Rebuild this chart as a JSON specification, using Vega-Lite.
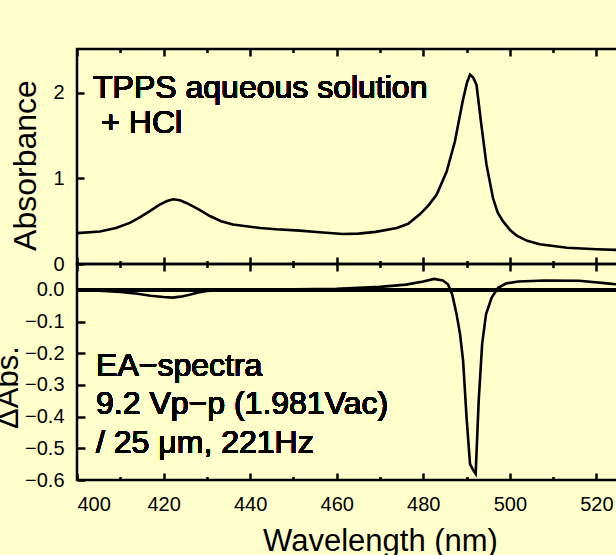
{
  "$schema": "https://vega.github.io/schema/vega-lite/v6.json",
  "background": "#FFFFCC",
  "padding": {"left": -10, "top": 46, "right": 0, "bottom": 0},
  "spacing": 0,
  "bounds": "flush",
  "config": {
    "view": {"stroke": "black", "strokeWidth": 2.5},
    "axis": {
      "domain": false, "grid": false, "ticks": true, "tickOpacity": 1,
      "tickColor": "black", "tickWidth": 2.5,
      "labelColor": "black", "labelFont": "Liberation Sans", "labelFontSize": 20,
      "titleColor": "black", "titleFont": "Liberation Sans", "titleFontWeight": "normal"
    },
    "axisX": {"ticks": true, "tickColor": "black"},
    "axisY": {"ticks": true, "tickColor": "black"}
  },
  "datasets": {
    "abs": [
      {"wl": 400, "a": 0.36}, {"wl": 405.3, "a": 0.38}, {"wl": 409, "a": 0.42}, {"wl": 412.2, "a": 0.48},
      {"wl": 414.5, "a": 0.545}, {"wl": 416.9, "a": 0.62}, {"wl": 419, "a": 0.69}, {"wl": 420.8, "a": 0.735},
      {"wl": 422.2, "a": 0.755}, {"wl": 423.8, "a": 0.745}, {"wl": 425.4, "a": 0.71}, {"wl": 428, "a": 0.64},
      {"wl": 430.7, "a": 0.56}, {"wl": 433.3, "a": 0.5}, {"wl": 436, "a": 0.46}, {"wl": 442.3, "a": 0.42},
      {"wl": 446, "a": 0.405}, {"wl": 451.5, "a": 0.39}, {"wl": 456, "a": 0.37}, {"wl": 461.4, "a": 0.35},
      {"wl": 465, "a": 0.355}, {"wl": 469, "a": 0.375}, {"wl": 473.9, "a": 0.42}, {"wl": 476.5, "a": 0.47},
      {"wl": 479.2, "a": 0.58}, {"wl": 481.3, "a": 0.69}, {"wl": 483.1, "a": 0.81}, {"wl": 485.4, "a": 1.08},
      {"wl": 487.3, "a": 1.43}, {"wl": 489.1, "a": 1.9}, {"wl": 490.1, "a": 2.12}, {"wl": 490.8, "a": 2.21},
      {"wl": 491.5, "a": 2.18}, {"wl": 492.3, "a": 2.09}, {"wl": 493.4, "a": 1.63}, {"wl": 494.6, "a": 1.16},
      {"wl": 496.1, "a": 0.77}, {"wl": 497.2, "a": 0.6}, {"wl": 498.4, "a": 0.5}, {"wl": 500, "a": 0.4},
      {"wl": 501.6, "a": 0.33}, {"wl": 504, "a": 0.27}, {"wl": 506.9, "a": 0.23}, {"wl": 513.2, "a": 0.19},
      {"wl": 520, "a": 0.172}, {"wl": 524.5, "a": 0.165}, {"wl": 530, "a": 0.16}, {"wl": 540, "a": 0.155}
    ],
    "ea": [
      {"wl": 400, "d": 0.0}, {"wl": 405, "d": -0.002}, {"wl": 410, "d": -0.006}, {"wl": 414, "d": -0.012},
      {"wl": 417, "d": -0.018}, {"wl": 420, "d": -0.022}, {"wl": 422, "d": -0.024}, {"wl": 424, "d": -0.021},
      {"wl": 426, "d": -0.015}, {"wl": 428, "d": -0.008}, {"wl": 430, "d": -0.003}, {"wl": 435, "d": 0.0},
      {"wl": 440, "d": 0.001}, {"wl": 450, "d": 0.002}, {"wl": 460, "d": 0.004}, {"wl": 470, "d": 0.01},
      {"wl": 476, "d": 0.017}, {"wl": 480, "d": 0.027}, {"wl": 482.5, "d": 0.035}, {"wl": 484.5, "d": 0.03},
      {"wl": 485.7, "d": 0.018}, {"wl": 486.7, "d": -0.015}, {"wl": 487.7, "d": -0.077}, {"wl": 488.5, "d": -0.14},
      {"wl": 489.2, "d": -0.224}, {"wl": 490.0, "d": -0.403}, {"wl": 490.8, "d": -0.55}, {"wl": 491.5, "d": -0.568},
      {"wl": 492.1, "d": -0.58}, {"wl": 492.8, "d": -0.35}, {"wl": 493.6, "d": -0.17}, {"wl": 494.5, "d": -0.076},
      {"wl": 495.8, "d": -0.024}, {"wl": 497.3, "d": 0.007}, {"wl": 499.2, "d": 0.021}, {"wl": 502, "d": 0.027},
      {"wl": 508, "d": 0.03}, {"wl": 516, "d": 0.029}, {"wl": 523, "d": 0.02}, {"wl": 530, "d": 0.012},
      {"wl": 540, "d": 0.005}
    ]
  },
  "vconcat": [
    {
      "width": 606,
      "height": 215,
      "data": {"name": "abs"},
      "resolve": {"axis": {"x": "independent", "y": "independent"}},
      "layer": [
        {
          "mark": {"type": "line", "color": "black", "strokeWidth": 2.6},
          "encoding": {
            "x": {
              "field": "wl", "type": "quantitative",
              "scale": {"domain": [400, 540], "nice": false, "zero": false},
              "axis": {
                "orient": "bottom", "title": null, "labels": false, "ticks": true,
                "values": [400, 420, 440, 460, 480, 500, 520, 540],
                "offset": -7, "tickSize": 7
              }
            },
            "y": {
              "field": "a", "type": "quantitative",
              "scale": {"domain": [0, 2.51], "nice": false},
              "axis": {
                "values": [0, 0.5, 1, 1.5, 2], "ticks": true,
                "format": "d",
                "labelExpr": "datum.value % 1 === 0 ? datum.label : ''",
                "offset": -7, "tickSize": 7, "labelPadding": 13,
                "title": "Absorbance", "titleFontSize": 32,
                "titleBaseline": "alphabetic", "titleX": -49, "titleY": 116
              }
            }
          }
        },
        {
          "mark": {"type": "line", "strokeOpacity": 0},
          "encoding": {
            "x": {
              "field": "wl", "type": "quantitative",
              "axis": {
                "orient": "bottom", "title": null, "labels": false, "ticks": true,
                "values": [410, 430, 450, 470, 490, 510, 530],
                "offset": -3.5, "tickSize": 3.5
              }
            },
            "y": {"field": "a", "type": "quantitative", "axis": null}
          }
        },
        {
          "mark": {"type": "line", "strokeOpacity": 0},
          "encoding": {
            "x": {
              "field": "wl", "type": "quantitative",
              "axis": {
                "orient": "top", "title": null, "labels": false, "ticks": true,
                "values": [400, 420, 440, 460, 480, 500, 520, 540],
                "offset": -7, "tickSize": 7
              }
            },
            "y": {"field": "a", "type": "quantitative", "axis": null}
          }
        },
        {
          "mark": {"type": "line", "strokeOpacity": 0},
          "encoding": {
            "x": {
              "field": "wl", "type": "quantitative",
              "axis": {
                "orient": "top", "title": null, "labels": false, "ticks": true,
                "values": [410, 430, 450, 470, 490, 510, 530],
                "offset": -3.5, "tickSize": 3.5
              }
            },
            "y": {"field": "a", "type": "quantitative", "axis": null}
          }
        },
        {
          "mark": {"type": "text", "font": "Liberation Sans", "fontSize": 32, "align": "left", "baseline": "alphabetic", "color": "black"},
          "encoding": {
            "x": {"datum": 403.7, "type": "quantitative", "axis": null},
            "y": {"datum": 1.94, "type": "quantitative", "axis": null},
            "text": {"value": "TPPS aqueous solution"}
          }
        },
        {
          "mark": {"type": "text", "font": "Liberation Sans", "fontSize": 32, "align": "left", "baseline": "alphabetic", "color": "black"},
          "encoding": {
            "x": {"datum": 405.6, "type": "quantitative", "axis": null},
            "y": {"datum": 1.527, "type": "quantitative", "axis": null},
            "text": {"value": "+ HCl"}
          }
        }
      ]
    },
    {
      "width": 606,
      "height": 216,
      "data": {"name": "ea"},
      "resolve": {"axis": {"x": "independent", "y": "independent"}},
      "layer": [
        {
          "mark": {"type": "rule", "color": "black", "strokeWidth": 2.5},
          "encoding": {
            "y": {"datum": 0, "type": "quantitative", "axis": null}
          }
        },
        {
          "mark": {"type": "line", "color": "black", "strokeWidth": 2.6},
          "encoding": {
            "x": {
              "field": "wl", "type": "quantitative",
              "scale": {"domain": [400, 540], "nice": false, "zero": false},
              "axis": {
                "orient": "bottom", "ticks": true,
                "values": [400, 420, 440, 460, 480, 500, 520, 540],
                "format": "d",
                "offset": -7, "tickSize": 7, "labelPadding": 14,
                "title": "Wavelength (nm)", "titleFontSize": 31,
                "titleBaseline": "alphabetic", "titleAlign": "center", "titleX": 303, "titleY": 77
              }
            },
            "y": {
              "field": "d", "type": "quantitative",
              "scale": {"domain": [-0.6, 0.0821], "nice": false, "zero": false},
              "axis": {
                "values": [0, -0.1, -0.2, -0.3, -0.4, -0.5, -0.6], "ticks": true,
                "format": ".1f",
                "offset": -8, "tickSize": 8, "labelPadding": 13,
                "title": "ΔAbs.", "titleFontSize": 31,
                "titleBaseline": "alphabetic", "titleX": -68, "titleY": 123
              }
            }
          }
        },
        {
          "mark": {"type": "line", "strokeOpacity": 0},
          "encoding": {
            "x": {
              "field": "wl", "type": "quantitative",
              "axis": {
                "orient": "bottom", "title": null, "labels": false, "ticks": true,
                "values": [410, 430, 450, 470, 490, 510, 530],
                "offset": -3.5, "tickSize": 3.5
              }
            },
            "y": {
              "field": "d", "type": "quantitative",
              "axis": {
                "values": [0.05, -0.05, -0.15, -0.25, -0.35, -0.45, -0.55],
                "labels": false, "title": null, "ticks": true,
                "offset": -4, "tickSize": 4
              }
            }
          }
        },
        {
          "mark": {"type": "line", "strokeOpacity": 0},
          "encoding": {
            "x": {
              "field": "wl", "type": "quantitative",
              "axis": {
                "orient": "top", "title": null, "labels": false, "ticks": true,
                "values": [400, 420, 440, 460, 480, 500, 520, 540],
                "offset": -7, "tickSize": 7
              }
            },
            "y": {"field": "d", "type": "quantitative", "axis": null}
          }
        },
        {
          "mark": {"type": "line", "strokeOpacity": 0},
          "encoding": {
            "x": {
              "field": "wl", "type": "quantitative",
              "axis": {
                "orient": "top", "title": null, "labels": false, "ticks": true,
                "values": [410, 430, 450, 470, 490, 510, 530],
                "offset": -3.5, "tickSize": 3.5
              }
            },
            "y": {"field": "d", "type": "quantitative", "axis": null}
          }
        },
        {
          "mark": {"type": "text", "font": "Liberation Sans", "fontSize": 32, "align": "left", "baseline": "alphabetic", "color": "black", "lineHeight": 38.3},
          "encoding": {
            "x": {"datum": 404.4, "type": "quantitative", "axis": null},
            "y": {"datum": -0.2716, "type": "quantitative", "axis": null},
            "text": {"value": ["EA−spectra", "9.2 Vp−p (1.981Vac)", "/ 25 μm, 221Hz"]}
          }
        }
      ]
    }
  ]
}
